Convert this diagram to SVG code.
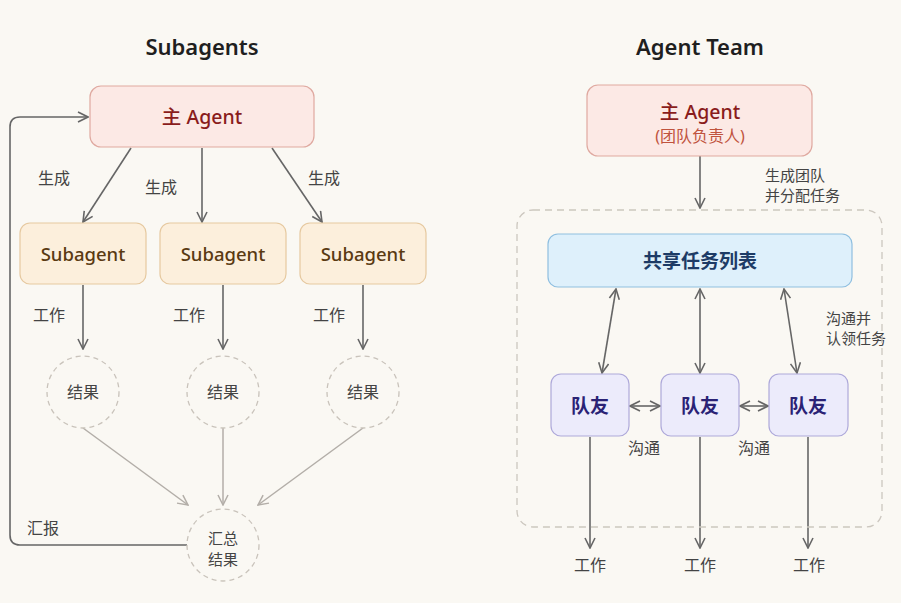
<svg xmlns="http://www.w3.org/2000/svg" width="901" height="603" viewBox="0 0 901 603">
<defs>
<style>
.t{font-family:"Noto Sans","Noto Sans CJK SC",sans-serif;text-anchor:middle}
.title{font-size:22px;font-weight:600;fill:#1f1f1f}
.lbl{font-family:"Noto Sans CJK SC","Noto Sans",sans-serif;font-size:16px;fill:#444}
.lbl2{font-family:"Noto Sans CJK SC","Noto Sans",sans-serif;font-size:15px;fill:#444}
.lblc{font-family:"Noto Sans CJK SC","Noto Sans",sans-serif;font-size:16px;fill:#444;text-anchor:middle}
.main{fill:#fce9e5;stroke:#dfa9a0;stroke-width:1.2}
.sub{fill:#fcefdc;stroke:#e6c9a0;stroke-width:1.2}
.res{fill:#faf8f3;stroke:#c9c3bb;stroke-width:1.3;stroke-dasharray:5 4}
.task{fill:#def0fb;stroke:#8fbfe0;stroke-width:1.2}
.mate{fill:#ecebfb;stroke:#aea9da;stroke-width:1.2}
.ar{fill:none;stroke:#666;stroke-width:1.6;marker-end:url(#a)}
.ar2{fill:none;stroke:#666;stroke-width:1.6;marker-end:url(#a);marker-start:url(#s)}
.arl{fill:none;stroke:#b3aea8;stroke-width:1.5;marker-end:url(#al)}
</style>
<marker id="a" viewBox="0 0 12 12" refX="11" refY="6" markerWidth="12" markerHeight="12" markerUnits="userSpaceOnUse" orient="auto"><path d="M1,1 L11,6 L1,11" fill="none" stroke="#666" stroke-width="1.6"/></marker>
<marker id="s" viewBox="0 0 12 12" refX="1" refY="6" markerWidth="12" markerHeight="12" markerUnits="userSpaceOnUse" orient="auto"><path d="M11,1 L1,6 L11,11" fill="none" stroke="#666" stroke-width="1.6"/></marker>
<marker id="al" viewBox="0 0 12 12" refX="11" refY="6" markerWidth="12" markerHeight="12" markerUnits="userSpaceOnUse" orient="auto"><path d="M1,1 L11,6 L1,11" fill="none" stroke="#b3aea8" stroke-width="1.5"/></marker>
</defs>
<rect width="901" height="603" fill="#faf8f3"/>
<text class="t title" x="202" y="55">Subagents</text>
<text class="t title" x="700" y="55">Agent Team</text>

<g id="connectors">
<path class="ar" d="M131,148 L83,222"/>
<path class="ar" d="M202,148 L202,222"/>
<path class="ar" d="M272,148 L322,222"/>
<path class="ar" d="M83,285 L83,349"/>
<path class="ar" d="M223,285 L223,349"/>
<path class="ar" d="M363,285 L363,349"/>
<path class="arl" d="M83,428 L188,505"/>
<path class="arl" d="M223,428 L223,505"/>
<path class="arl" d="M363,428 L258,505"/>
<path class="ar" d="M187,545 L20,545 Q10,545 10,535 L10,127 Q10,117 20,117 L88,117"/>
<path class="ar" d="M700,156 L700,208"/>
<path class="ar2" d="M616,289 L602,373"/>
<path class="ar2" d="M700,289 L700,373"/>
<path class="ar2" d="M784,289 L797,373"/>
<path class="ar2" d="M630,406 L660,406"/>
<path class="ar2" d="M740,406 L768,406"/>
<path class="ar" d="M590,437 L590,548"/>
<path class="ar" d="M700,437 L700,548"/>
<path class="ar" d="M808,437 L808,548"/>
</g>

<text class="lbl" x="38" y="184">生成</text>
<text class="lbl" x="145" y="193">生成</text>
<text class="lbl" x="308" y="184">生成</text>
<text class="lbl" x="33" y="321">工作</text>
<text class="lbl" x="173" y="321">工作</text>
<text class="lbl" x="313" y="321">工作</text>
<text class="lbl" x="27" y="534">汇报</text>
<text class="lbl2" x="765" y="181">生成团队</text>
<text class="lbl2" x="765" y="201">并分配任务</text>
<text class="lbl2" x="826" y="324">沟通并</text>
<text class="lbl2" x="826" y="344">认领任务</text>
<text class="lbl" x="628" y="454">沟通</text>
<text class="lbl" x="738" y="454">沟通</text>
<text class="lblc" x="590" y="571">工作</text>
<text class="lblc" x="700" y="571">工作</text>
<text class="lblc" x="809" y="571">工作</text>

<g id="main-agent-left">
<rect class="main" x="90" y="86" width="224" height="61" rx="11"/>
<text class="t" x="202" y="124" font-size="19.5" font-weight="500" fill="#8a1c1c">主 Agent</text>
</g>
<g id="subagent-1">
<rect class="sub" x="20" y="223" width="126" height="61" rx="10"/>
<text class="t" x="83" y="261" font-size="18.5" font-weight="500" fill="#5a3a12">Subagent</text>
</g>
<g id="subagent-2">
<rect class="sub" x="160" y="223" width="126" height="61" rx="10"/>
<text class="t" x="223" y="261" font-size="18.5" font-weight="500" fill="#5a3a12">Subagent</text>
</g>
<g id="subagent-3">
<rect class="sub" x="300" y="223" width="126" height="61" rx="10"/>
<text class="t" x="363" y="261" font-size="18.5" font-weight="500" fill="#5a3a12">Subagent</text>
</g>
<g id="result-1">
<circle class="res" cx="83" cy="392" r="36"/>
<text class="lblc" x="83" y="398">结果</text>
</g>
<g id="result-2">
<circle class="res" cx="223" cy="392" r="36"/>
<text class="lblc" x="223" y="398">结果</text>
</g>
<g id="result-3">
<circle class="res" cx="363" cy="392" r="36"/>
<text class="lblc" x="363" y="398">结果</text>
</g>
<g id="summary">
<circle class="res" cx="223" cy="545" r="36"/>
<text class="lbl2" x="223" y="544" text-anchor="middle">汇总</text>
<text class="lbl2" x="223" y="565" text-anchor="middle">结果</text>
</g>

<g id="team-container">
<rect x="517" y="210" width="365" height="317" rx="16" fill="none" stroke="#ccc7bf" stroke-width="1.3" stroke-dasharray="7 5"/>
</g>
<g id="main-agent-right">
<rect class="main" x="587" y="85" width="225" height="71" rx="11"/>
<text class="t" x="700" y="119" font-size="19.5" font-weight="500" fill="#8a1c1c">主 Agent</text>
<text class="t" x="700" y="142" font-size="16" fill="#c0533d">(团队负责人)</text>
</g>
<g id="task-list">
<rect class="task" x="548" y="234" width="304" height="53" rx="10"/>
<text class="t" x="700" y="268" font-size="19" font-weight="700" fill="#1d3b66">共享任务列表</text>
</g>
<g id="mate-1">
<rect class="mate" x="551" y="374" width="78" height="62" rx="10"/>
<text class="t" x="590" y="413" font-size="19" font-weight="700" fill="#2a2275">队友</text>
</g>
<g id="mate-2">
<rect class="mate" x="661" y="374" width="78" height="62" rx="10"/>
<text class="t" x="700" y="413" font-size="19" font-weight="700" fill="#2a2275">队友</text>
</g>
<g id="mate-3">
<rect class="mate" x="769" y="374" width="79" height="62" rx="10"/>
<text class="t" x="808" y="413" font-size="19" font-weight="700" fill="#2a2275">队友</text>
</g>
</svg>
